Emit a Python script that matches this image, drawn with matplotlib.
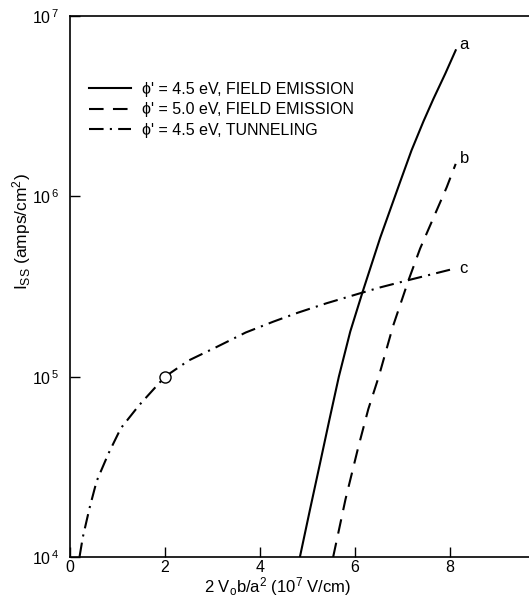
import matplotlib
matplotlib.use("Agg")
import matplotlib.pyplot as plt
import numpy as np

plt.rcParams['font.family'] = ['Liberation Sans', 'DejaVu Sans']
plt.rcParams['mathtext.fontset'] = 'custom'
plt.rcParams['mathtext.rm'] = 'Liberation Sans'
plt.rcParams['mathtext.it'] = 'Liberation Sans'

# curve a: phi' = 4.5 eV, field emission (x in 1e7 V/cm, log10 of Iss)
a_x = [4.84, 5.05, 5.26, 5.46, 5.66, 5.9, 6.16, 6.53, 6.95, 7.19, 7.44, 7.65, 7.9, 8.12]
a_log = [4.0, 4.26, 4.515, 4.76, 5.0, 5.25, 5.47, 5.77, 6.08, 6.255, 6.415, 6.54, 6.68, 6.81]
# curve b: phi' = 5.0 eV, field emission
b_x = [5.54, 5.8, 6.07, 6.28, 6.5, 6.8, 7.12, 7.37, 7.65, 7.93, 8.12]
b_log = [4.0, 4.32, 4.61, 4.82, 5.0, 5.28, 5.53, 5.71, 5.88, 6.05, 6.18]
# curve c: phi' = 4.5 eV, tunneling
c_x = [0.2, 0.27, 0.41, 0.56, 0.81, 1.07, 1.45, 2.0, 2.5, 3.09, 3.7, 4.28, 4.8, 5.40, 6.14, 6.53, 7.12, 8.0]
c_log = [4.0, 4.11, 4.27, 4.42, 4.574, 4.714, 4.84, 5.0, 5.09, 5.165, 5.245, 5.305, 5.355, 5.407, 5.465, 5.495, 5.535, 5.593]
# open circle on curve c
pt_x, pt_y = 2.0, 1e5

labels = ["ϕ' = 4.5 eV, FIELD EMISSION",
          "ϕ' = 5.0 eV, FIELD EMISSION",
          "ϕ' = 4.5 eV, TUNNELING"]

fig = plt.figure(figsize=(5.29, 5.99), dpi=100)
W, H = 529, 599
ax = fig.add_axes([70 / W, 1 - 557 / H, 475 / W, 541 / H])

lw = 1.5
ax.plot(a_x, 10 ** np.array(a_log), color='black', lw=lw, label=labels[0])
ax.plot(b_x, 10 ** np.array(b_log), color='black', lw=lw, dashes=(7, 4.5), label=labels[1])
ax.plot(c_x, 10 ** np.array(c_log), color='black', lw=lw, dashes=(7, 3, 1, 3), label=labels[2])
ax.plot([pt_x], [pt_y], 'o', mfc='white', mec='black', ms=8, mew=1.0, zorder=5)

ax.text(8.2, 10 ** 6.84, 'a', fontsize=12, va='center')
ax.text(8.2, 10 ** 6.21, 'b', fontsize=12, va='center')
ax.text(8.2, 10 ** 5.6, 'c', fontsize=12, va='center')

ax.set_yscale('log')
ax.set_xlim(0, 10)
ax.set_ylim(1e4, 1e7)
ax.set_yticks([1e4, 1e5, 1e6, 1e7])
ax.set_yticklabels([r'10$^{\,4}$', r'10$^{\,5}$', r'10$^{\,6}$', r'10$^{\,7}$'], fontsize=11.5)
ax.yaxis.set_minor_locator(matplotlib.ticker.NullLocator())
ax.set_xticks([0, 2, 4, 6, 8])
ax.set_xticklabels(['0', '2', '4', '6', '8'], fontsize=11.5)
ax.tick_params(direction='in', length=7, width=1.0)
ax.tick_params(axis='x', pad=2)
ax.tick_params(axis='y', pad=8)
ax.spines['right'].set_visible(False)
for s in ['left', 'bottom', 'top']:
    ax.spines[s].set_linewidth(1.2)

fig.text(22 / W, 1 - 232 / H, r'I$_{\rm SS}$ (amps/cm$^2$)', rotation=90,
         ha='center', va='center', fontsize=12.5)
fig.text(277 / W, 1 - 587 / H, r'2 V$_{\rm o}$b/a$^2$ (10$^7$ V/cm)',
         ha='center', va='center', fontsize=12)

ax.legend(loc='upper left', bbox_to_anchor=(0.01, 0.905), frameon=False,
          fontsize=11.5, handlelength=2.6, labelspacing=0.35, handletextpad=0.7)

fig.savefig('out.png', dpi=100)
